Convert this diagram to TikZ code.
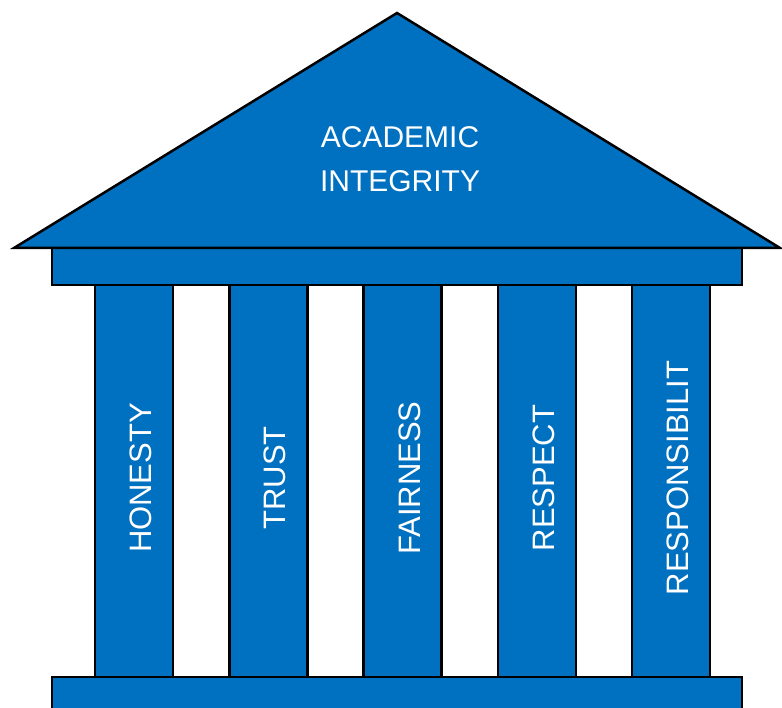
\documentclass[tikz,border=0pt]{standalone}
\usepackage{fontspec}
\setmainfont{Liberation Sans}
\definecolor{pillarblue}{HTML}{0070C0}
\tikzset{
  part/.style={fill=pillarblue, draw=black, line width=2.5pt},
  pillartext/.style={text=white, font=\fontsize{31}{37}\selectfont, inner sep=0pt}
}
\begin{document}
\begin{tikzpicture}[x=1pt,y=1pt]
	\useasboundingbox (0,0) rectangle (782,708);
	% Draw the base
	\draw[part] (52,-6) rectangle (742,31);
	% Draw the five columns with their words
	\foreach \i/\word in {0/HONESTY,1/TRUST,2/FAIRNESS,3/RESPECT,4/RESPONSIBILIT} {
		\node[part, minimum width=78pt, minimum height=392pt, inner sep=0pt] (col\i) at ({134+134.25*\i},227) {};
		\node[pillartext, rotate=90] (word\i) at ([xshift=7pt,yshift=3pt]col\i.center) {\word};
	}
	% Draw the beam on top of the columns
	\draw[part] (52,423) rectangle (742,460);
	% Draw the roof
	\draw[part] (14,460) coordinate (roof_l) -- (397,695) coordinate (roof_t)
		-- (780,460) coordinate (roof_r) -- cycle;
	\node[pillartext, align=center, font=\fontsize{30}{44}\selectfont] (title) at (400,549) {ACADEMIC\\INTEGRITY};
\end{tikzpicture}
\end{document}
